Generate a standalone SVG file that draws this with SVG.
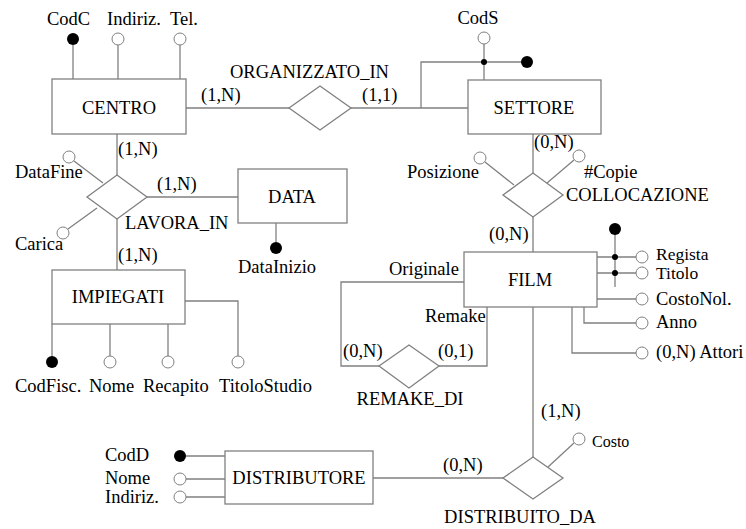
<svg xmlns="http://www.w3.org/2000/svg" width="746" height="529" viewBox="0 0 746 529">
<style>
.l{fill:none;stroke:#808080;stroke-width:1.3}
.e{fill:#fff;stroke:#808080;stroke-width:1.3}
.o{fill:#fff;stroke:#808080;stroke-width:1}
.k{fill:#000}
text{font-family:"Liberation Serif","Times New Roman",serif;font-size:18.5px;fill:#000}
.m{text-anchor:middle}
.s{font-size:16px}
.t{font-size:17.5px}
</style>
<rect width="746" height="529" fill="#fff"/>
<g id="connectors">
<path class="l" d="M186,108H289M351,108H468"/>
<path class="l" d="M117,134V175M117,219V270M147,197H238"/>
<path class="l" d="M533,134V173M533,217V252"/>
<path class="l" d="M464,282H341V366H379M487,307V366H439"/>
<path class="l" d="M533,307V457M373,478H503"/>
</g>
<g id="centro">
<rect class="e" x="52" y="79" width="134" height="55"/>
<text class="m" x="119" y="114">CENTRO</text>
<path class="l" d="M73,45V79M118,45V79M180,45V79"/>
<circle class="k" cx="73" cy="39" r="6"/>
<circle class="o" cx="118" cy="39" r="6"/>
<circle class="o" cx="180" cy="39" r="6"/>
<text x="47" y="25">CodC</text>
<text x="107" y="25">Indiriz.</text>
<text x="170" y="25">Tel.</text>
</g>
<g id="organizzato_in">
<polygon class="e" points="289,108 320,86 351,108 320,130"/>
<text x="230" y="78">ORGANIZZATO_IN</text>
<text x="201" y="101">(1,N)</text>
<text x="362" y="101">(1,1)</text>
</g>
<g id="settore">
<rect class="e" x="468" y="80" width="133" height="54"/>
<text class="m" x="534" y="114">SETTORE</text>
<path class="l" d="M484,44V80M421,108V62H527"/>
<circle class="o" cx="484" cy="38" r="6"/>
<circle class="k" cx="484" cy="62" r="3"/>
<circle class="k" cx="527" cy="62" r="6"/>
<text class="m" x="478" y="24">CodS</text>
</g>
<g id="lavora_in">
<polygon class="e" points="87,197 117,175 147,197 117,219"/>
<text x="125" y="229">LAVORA_IN</text>
<text x="118" y="155">(1,N)</text>
<text x="157" y="190">(1,N)</text>
<text x="118" y="261">(1,N)</text>
<path class="l" d="M74,161L103,183M68,229L97,208"/>
<circle class="o" cx="69" cy="157" r="6"/>
<circle class="o" cx="63" cy="233" r="6"/>
<text x="15" y="178">DataFine</text>
<text x="15" y="250">Carica</text>
</g>
<g id="data">
<rect class="e" x="238" y="169" width="109" height="54"/>
<text class="m" x="292" y="203">DATA</text>
<path class="l" d="M276,223V242"/>
<circle class="k" cx="276" cy="248" r="6"/>
<text class="m" x="277" y="273">DataInizio</text>
</g>
<g id="impiegati">
<rect class="e" x="52" y="270" width="133" height="54"/>
<text class="m" x="118" y="303">IMPIEGATI</text>
<path class="l" d="M52,324V356M110,324V356M168,324V356M185,301H238V356"/>
<circle class="k" cx="52" cy="362" r="6"/>
<circle class="o" cx="110" cy="362" r="6"/>
<circle class="o" cx="168" cy="362" r="6"/>
<circle class="o" cx="238" cy="362" r="6"/>
<text x="15" y="392">CodFisc.</text>
<text x="89" y="392">Nome</text>
<text x="143" y="392">Recapito</text>
<text x="219" y="392">TitoloStudio</text>
</g>
<g id="collocazione">
<polygon class="e" points="503,195 533,173 563,195 533,217"/>
<text x="566" y="201">COLLOCAZIONE</text>
<text x="534" y="148">(0,N)</text>
<text x="489" y="240">(0,N)</text>
<path class="l" d="M485,162L514,185M574,160L547,183"/>
<circle class="o" cx="480" cy="158" r="6"/>
<circle class="o" cx="579" cy="156" r="6"/>
<text x="407" y="178">Posizione</text>
<text x="584" y="178">#Copie</text>
</g>
<g id="film">
<rect class="e" x="464" y="252" width="133" height="55"/>
<text class="m" x="530" y="286">FILM</text>
<path class="l" d="M615,229V287M597,257H636M597,273H636M597,299H636M584,307V323H636M572,307V353H636"/>
<circle class="k" cx="615" cy="229" r="6"/>
<circle class="k" cx="615" cy="257" r="3"/>
<circle class="k" cx="615" cy="273" r="3"/>
<circle class="o" cx="642" cy="257" r="6"/>
<circle class="o" cx="642" cy="273" r="6"/>
<circle class="o" cx="642" cy="299" r="6"/>
<circle class="o" cx="642" cy="323" r="6"/>
<circle class="o" cx="642" cy="353" r="6"/>
<text class="t" x="656" y="260">Regista</text>
<text class="t" x="656" y="279">Titolo</text>
<text x="656" y="305">CostoNol.</text>
<text x="656" y="328">Anno</text>
<text x="656" y="358">(0,N) Attori</text>
</g>
<g id="remake_di">
<polygon class="e" points="379,366 409,345 439,366 409,388"/>
<text x="389" y="275">Originale</text>
<text x="425" y="322">Remake</text>
<text x="343" y="357">(0,N)</text>
<text x="438" y="357">(0,1)</text>
<text class="m" x="410" y="405">REMAKE_DI</text>
</g>
<g id="distribuito_da">
<polygon class="e" points="503,478 533,457 563,478 533,499"/>
<text x="541" y="417">(1,N)</text>
<text x="443" y="471">(0,N)</text>
<text class="m" x="520" y="523">DISTRIBUITO_DA</text>
<path class="l" d="M574,443L548,467"/>
<circle class="o" cx="579" cy="439" r="6"/>
<text class="s" x="592" y="447">Costo</text>
</g>
<g id="distributore">
<rect class="e" x="225" y="451" width="148" height="53"/>
<text class="m" x="299" y="484">DISTRIBUTORE</text>
<path class="l" d="M186,456H225M186,479H225M186,497H225"/>
<circle class="k" cx="180" cy="456" r="6"/>
<circle class="o" cx="180" cy="479" r="6"/>
<circle class="o" cx="180" cy="497" r="6"/>
<text x="105" y="461">CodD</text>
<text x="105" y="484">Nome</text>
<text x="105" y="503">Indiriz.</text>
</g>
</svg>
